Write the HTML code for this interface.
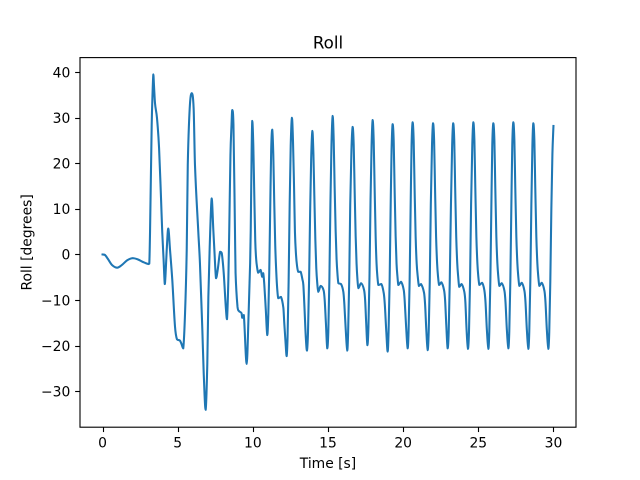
<!DOCTYPE html>
<html>
<head>
<meta charset="utf-8">
<title>Roll</title>
<style>
html,body{margin:0;padding:0;background:#fff;}
svg{display:block;}
text{font-family:"DejaVu Sans",sans-serif;fill:#000;}
</style>
</head>
<body>
<svg id="chart" xmlns="http://www.w3.org/2000/svg" width="640" height="480" viewBox="0 0 640 480">
<rect x="0" y="0" width="640" height="480" fill="#fff"/>
<g id="plot"></g>
<text x="328" y="48.5" font-size="16.67" text-anchor="middle">Roll</text>
<text x="328" y="468" font-size="13.89" text-anchor="middle">Time [s]</text>
<text transform="translate(31.5,242.4) rotate(-90)" font-size="13.89" text-anchor="middle">Roll [degrees]</text>
</svg>
<script>
const timeSeconds = [
0,0.16,0.36,0.63,0.98,1.29,1.63,2.0,2.36,2.69,3.04,3.11,3.16,3.27,3.33,3.38,3.42,3.49,3.62,3.76,3.89,3.97,4.06,4.14,4.19,4.27,4.37,4.49,4.64,4.82,4.95,5.15,5.25,5.37,5.49,5.6,5.67,5.8,5.93,6.06,6.15,6.37,6.48,6.64,6.73,6.86,6.97,7.04,7.13,7.26,7.37,7.44,7.55,7.66,7.82,7.93,8.06,8.2,8.28,8.37,8.43,8.51,8.58,8.63,8.71,8.81,8.85,8.98,9.07,9.25,9.29,9.4,9.59,9.72,9.82,9.86,9.92,9.96,
10.03,10.09,10.16,10.22,10.29,10.35,10.52,10.62,10.69,10.76,10.86,10.96,11.03,11.09,11.16,11.22,11.29,
11.36,11.42,11.49,11.56,11.62,11.69,11.87,12.03,12.09,12.17,12.25,12.31,12.38,12.45,12.52,12.6,
12.67,12.74,12.8,12.87,12.94,13.02,13.18,13.3,13.36,13.44,13.52,13.6,13.67,13.74,13.81,13.88,13.96,
14.03,14.09,14.16,14.22,14.29,14.35,14.51,14.71,14.78,14.86,14.95,15.02,15.09,15.16,15.23,15.31,
15.38,15.44,15.51,15.57,15.63,15.69,15.87,16.02,16.09,16.18,16.28,16.34,16.41,16.48,16.56,16.64,
16.71,16.77,16.84,16.9,16.96,17.02,17.2,17.4,17.47,17.54,17.62,17.69,17.76,17.83,17.9,17.97,
18.04,18.1,18.17,18.23,18.29,18.35,18.55,18.71,18.78,18.88,18.97,19.03,19.1,19.17,19.23,19.3,
19.37,19.43,19.5,19.56,19.62,19.68,19.86,20.04,20.1,20.2,20.3,20.36,20.43,20.5,20.56,20.63,
20.7,20.76,20.83,20.9,20.97,21.05,21.19,21.39,21.46,21.54,21.63,21.7,21.77,21.84,21.92,21.99,
22.06,22.12,22.19,22.26,22.32,22.39,22.54,22.72,22.79,22.87,22.96,23.03,23.1,23.18,23.26,23.33,
23.4,23.46,23.53,23.6,23.66,23.73,23.89,24.07,24.14,24.22,24.31,24.38,24.45,24.52,24.6,24.67,
24.74,24.8,24.87,24.94,25.0,25.07,25.25,25.4,25.48,25.57,25.67,25.73,25.8,25.87,25.93,26,
26.07,26.13,26.2,26.27,26.33,26.4,26.56,26.74,26.81,26.9,27.0,27.06,27.13,27.2,27.26,27.33,
27.4,27.46,27.53,27.6,27.66,27.73,27.89,28.07,28.14,28.23,28.33,28.39,28.46,28.53,28.6,28.66,
28.73,28.79,28.86,28.93,28.99,29.06,29.22,29.4,29.47,29.56,29.66,29.72,29.79,29.86,29.93,30
];
const rollDegrees = [
0,-0.1,-1,-2.3,-2.9,-2.3,-1.3,-0.8,-1.1,-1.65,-2.1,-2,5,28.4,35.7,39.5,37.2,33.2,30,23.4,12.4,5,-1,-6.5,-4.5,1,5.7,1,-5.6,-15.8,-18.6,-18.9,-19.6,-20.6,-12.8,1,19.6,32.1,35.4,32.1,19.6,5,-1.9,-16.6,-26,-34.1,-23.9,-9.3,1.7,12.3,5.4,1,-5.2,-3.4,0.6,0.3,-4,-11.5,-14.2,-5.6,5.4,21.8,28.4,31.7,28.4,5.4,-4,-11.5,-12.4,-12.9,-13.9,-13.3,-24,-12.8,-1.9,5.4,22.9,29.3,
24,14,3,-1,-3,-4,-3.4,-4.9,-4.1,-6.5,-12,-17.7,-13,-4,11,23,27.4,
22,12,2,-4,-7.5,-9.6,-9.3,-11.7,-15,-19,-22.3,-18,-6,11,24,30,
25,15,5,0,-2.5,-3.8,-3.8,-5.5,-6.7,-12,-18,-21.1,-17,-6,9,21,27.1,
22,13,3,-3,-6.5,-8.2,-6.9,-7.9,-10,-15,-20.6,-17,-6,11,24,30.4,
25,15,5,-1,-4.3,-6.3,-6.5,-8.2,-11,-16.5,-21.1,-17,-6,11,23,28,
24,14.5,4,-2,-5.5,-7.4,-6.3,-7.8,-10,-15,-19.9,-16,-5,12,24,29.5,
25,15,4,-2,-5,-6.7,-6.5,-8.5,-11,-17,-21.3,-17,-6,11,23,28.6,
25,14.7,4,-2,-4.8,-6.7,-6,-7.8,-10,-16,-20.6,-17,-6,11,24,29,
25,14.7,4,-2,-4.8,-6.9,-6.5,-8.4,-11,-16.5,-21,-17,-6,11,24,28.8,
25,14.7,4,-2,-4.8,-6.7,-6.1,-7.8,-10,-15.5,-20.6,-17,-6,11,24,28.8,
25,14.7,4,-2,-4.8,-7.1,-6.5,-8.2,-10.5,-16.5,-20.7,-17,-6,11,24,29,
25,14.7,4,-2,-4.8,-6.7,-6.2,-7.8,-10.5,-16.5,-20.7,-17,-6,11,24,28.8,
25,14.7,4,-2,-4.8,-6.9,-6.3,-8,-10.5,-16.5,-20.6,-17,-6,11,24,29,
25,14.7,4,-2,-4.8,-6.9,-6.2,-8,-10.5,-16.5,-20.7,-17,-6,11,24,28.8,
25,14.7,4,-2,-4.8,-6.9,-6.2,-8,-10.5,-16.5,-20.7,-17,-6,10,22,28.2
];
const xTickLabels = [0,5,10,15,20,25,30];
const yTickLabels = [-30,-20,-10,0,10,20,30,40];

const NS = 'http://www.w3.org/2000/svg';
const plotLeft = 80, plotRight = 576, plotTop = 57.6, plotBottom = 427.2;
const xMin = -1.5, xMax = 31.5, yMin = -37.9, yMax = 43.2;

function xScale(t) {
  return plotLeft + (t - xMin) / (xMax - xMin) * (plotRight - plotLeft);
}
function yScale(v) {
  return plotBottom - (v - yMin) / (yMax - yMin) * (plotBottom - plotTop);
}
function formatTick(v) {
  return v < 0 ? '\u2212' + Math.abs(v) : String(v);
}
function make(tag, attrs, parent) {
  const el = document.createElementNS(NS, tag);
  for (const k in attrs) el.setAttribute(k, attrs[k]);
  parent.appendChild(el);
  return el;
}
function clamp(v, a, b) {
  return Math.max(Math.min(a, b), Math.min(Math.max(a, b), v));
}
function smoothPath(xs, ys) {
  const n = xs.length;
  function slope(i) {
    const a = Math.max(i - 1, 0), b = Math.min(i + 1, n - 1);
    return (ys[b] - ys[a]) / (xs[b] - xs[a]);
  }
  let d = 'M' + xs[0].toFixed(2) + ' ' + ys[0].toFixed(2);
  for (let i = 0; i < n - 1; i++) {
    const dx = (xs[i + 1] - xs[i]) / 3;
    const c1y = clamp(ys[i] + slope(i) * dx, ys[i], ys[i + 1]);
    const c2y = clamp(ys[i + 1] - slope(i + 1) * dx, ys[i], ys[i + 1]);
    d += 'C' + (xs[i] + dx).toFixed(2) + ' ' + c1y.toFixed(2) + ' ' + (xs[i + 1] - dx).toFixed(2) + ' ' + c2y.toFixed(2) + ' ' + xs[i + 1].toFixed(2) + ' ' + ys[i + 1].toFixed(2);
  }
  return d;
}

const plot = document.getElementById('plot');

const seriesLine = make('path', {
  d: smoothPath(timeSeconds.map(xScale), rollDegrees.map(yScale)),
  fill: 'none', stroke: '#1f77b4', 'stroke-width': 2.08,
  'stroke-linejoin': 'round', 'stroke-linecap': 'square'
}, plot);



const frame = make('rect', {
  x: plotLeft, y: plotTop, width: plotRight - plotLeft, height: plotBottom - plotTop,
  fill: 'none', stroke: '#000', 'stroke-width': 1.11
}, plot);



xTickLabels.forEach(function (v) {
  const x = Math.round(xScale(v)) + 0.5;
  const tick = make('line', { x1: x, x2: x, y1: plotBottom, y2: plotBottom + 4.86, stroke: '#000', 'stroke-width': 1.11 }, plot);
  
  
  const label = make('text', { x: xScale(v), y: 447.5, 'font-size': 13.89, 'text-anchor': 'middle' }, plot);
  label.textContent = formatTick(v);
  
  
});

yTickLabels.forEach(function (v) {
  const y = Math.round(yScale(v)) + 0.5;
  const tick = make('line', { x1: plotLeft - 4.86, x2: plotLeft, y1: y, y2: y, stroke: '#000', 'stroke-width': 1.11 }, plot);
  
  
  const label = make('text', { x: 70.3, y: yScale(v) + 5.2, 'font-size': 13.89, 'text-anchor': 'end' }, plot);
  label.textContent = formatTick(v);
  
  
});
</script>
</body>
</html>
